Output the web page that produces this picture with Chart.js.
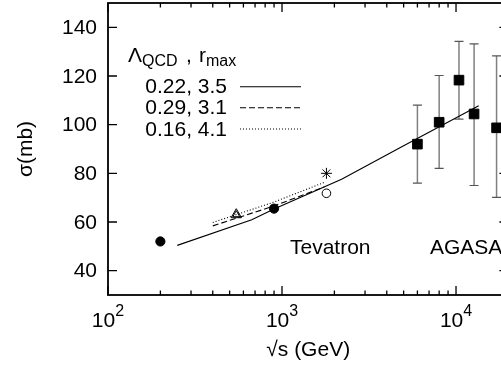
<!DOCTYPE html>
<html>
<head>
<meta charset="utf-8">
<script src="https://cdn.jsdelivr.net/npm/chart.js@4/dist/chart.umd.min.js"></script>
<style>
  html, body { margin: 0; padding: 0; background: #fff; overflow: hidden; }
  #wrap { width: 530px; height: 365px; }
</style>
</head>
<body>
<div id="wrap"><canvas id="c" width="530" height="365"></canvas></div>
<script>
// Model curves: sigma (mb) vs sqrt(s) (GeV) for three (Lambda_QCD, r_max) choices
const curveA_x = [250, 670, 900, 2200, 5000, 13500];
const curveA_y = [50.4, 60.9, 65.3, 77.6, 91.3, 107.8];
const curveB_x = [400, 900, 1750];
const curveB_y = [58.4, 66.6, 74.4];
const curveC_x = [400, 900, 1750];
const curveC_y = [59.8, 68.2, 76.3];
const curveLabels = ['0.22, 3.5', '0.29, 3.1', '0.16, 4.1'];

// Accelerator measurements
const filledCircleX = [200, 900];
const filledCircleY = [52, 65.5];
const triangleX = [546];
const triangleY = [63];
const starX = [1800];
const starY = [80];
const openCircleX = [1800];
const openCircleY = [71.8];

// AGASA cosmic-ray points with error ranges
const agasaX = [6000, 8000, 10400, 12700, 17100];
const agasaY = [92, 101, 118.3, 104.4, 98.7];
const agasaLow = [76, 82, 102.3, 75, 70.1];
const agasaHigh = [108, 120.2, 134.2, 133.2, 128.3];

// Axis ticks
const yTicks = [40, 60, 80, 100, 120, 140];
const xDecades = [100, 1000, 10000];
const xMin = 100, xMax = 20000, yMin = 30, yMax = 150;

// Plot rectangle inside the canvas
const AREA = { left: 108, top: 3, right: 508.4, bottom: 295 };

const FONT = '"Liberation Sans", Arial, Helvetica, sans-serif';
const pts = (xs, ys) => xs.map((x, i) => ({ x, y: ys[i] }));

const errorBars = {
  id: 'errorBars',
  beforeDatasetsDraw(chart) {
    const { ctx, scales: { x, y } } = chart;
    ctx.save();
    agasaX.forEach((v, i) => {
      const px = x.getPixelForValue(v);
      const lo = y.getPixelForValue(agasaLow[i]);
      const hi = y.getPixelForValue(agasaHigh[i]);
      ctx.strokeStyle = '#808080';
      ctx.lineWidth = 1.5;
      ctx.beginPath(); ctx.moveTo(px, lo); ctx.lineTo(px, hi); ctx.stroke();
      ctx.strokeStyle = '#555';
      ctx.lineWidth = 1.2;
      ctx.beginPath();
      ctx.moveTo(px - 4.5, lo); ctx.lineTo(px + 4.5, lo);
      ctx.moveTo(px - 4.5, hi); ctx.lineTo(px + 4.5, hi);
      ctx.stroke();
    });
    ctx.restore();
  }
};

const frame = {
  id: 'frame',
  afterDraw(chart) {
    const { ctx, chartArea: a, scales: { x, y } } = chart;
    ctx.save();
    ctx.strokeStyle = '#000';
    ctx.lineWidth = 1.8;
    ctx.strokeRect(a.left, a.top, a.right - a.left, a.bottom - a.top);

    // inward ticks on all four sides
    ctx.lineWidth = 1.3;
    ctx.beginPath();
    xDecades.forEach(d => {
      for (let m = 1; m <= 9; m++) {
        const v = d * m;
        if (v > xMax) break;
        const px = x.getPixelForValue(v);
        const len = m === 1 ? 9 : 4.5;
        ctx.moveTo(px, a.bottom); ctx.lineTo(px, a.bottom - len);
        ctx.moveTo(px, a.top); ctx.lineTo(px, a.top + len);
      }
    });
    yTicks.forEach(v => {
      const py = y.getPixelForValue(v);
      ctx.moveTo(a.left, py); ctx.lineTo(a.left + 9, py);
      ctx.moveTo(a.right, py); ctx.lineTo(a.right - 9, py);
    });
    ctx.stroke();

    ctx.fillStyle = '#000';

    // y tick labels
    ctx.font = '21px ' + FONT;
    ctx.textAlign = 'right';
    ctx.textBaseline = 'middle';
    yTicks.forEach(v => {
      ctx.fillText(String(v), a.left - 11, y.getPixelForValue(v) + 1);
    });

    ctx.textBaseline = 'alphabetic';
    ctx.textAlign = 'left';

    // x tick labels as powers of ten
    xDecades.forEach(d => {
      const px = x.getPixelForValue(d);
      const exp = String(Math.round(Math.log10(d)));
      ctx.font = '21px ' + FONT;
      const wb = ctx.measureText('10').width;
      ctx.font = '16px ' + FONT;
      const we = ctx.measureText(exp).width;
      const left = px - (wb + we) / 2;
      ctx.font = '21px ' + FONT;
      ctx.fillText('10', left, 327);
      ctx.font = '16px ' + FONT;
      ctx.fillText(exp, left + wb, 316);
    });

    // axis titles
    ctx.font = '21px ' + FONT;
    ctx.textAlign = 'center';
    ctx.fillText('\u221As (GeV)', (a.left + a.right) / 2, 356);
    ctx.save();
    ctx.translate(26, (a.top + a.bottom) / 2);
    ctx.rotate(-Math.PI / 2);
    ctx.textBaseline = 'middle';
    ctx.fillText('\u03C3(mb)', 0, 0);
    ctx.restore();

    // experiment labels
    ctx.textAlign = 'left';
    ctx.fillText('Tevatron', 290, 254);
    ctx.fillText('AGASA', 430, 254);

    // key title: Lambda_QCD , r_max
    ctx.font = '21px ' + FONT;
    ctx.fillText('\u039B', 128, 62);
    const wL = ctx.measureText('\u039B').width;
    ctx.font = '16px ' + FONT;
    ctx.fillText('QCD', 128 + wL, 66);
    ctx.font = '21px ' + FONT;
    ctx.fillText(',', 186, 62);
    ctx.fillText('r', 199, 62);
    const wr = ctx.measureText('r').width;
    ctx.font = '16px ' + FONT;
    ctx.fillText('max', 199 + wr, 66);

    // key entries
    const rows = [86.7, 107.7, 129];
    const dsIdx = [0, 1, 2];
    ctx.font = '21px ' + FONT;
    ctx.textAlign = 'right';
    ctx.textBaseline = 'middle';
    rows.forEach((ry, i) => {
      ctx.fillStyle = '#000';
      ctx.fillText(curveLabels[i], 227, ry + 1);
      const ds = chart.data.datasets[dsIdx[i]];
      ctx.strokeStyle = ds.borderColor;
      ctx.lineWidth = ds.borderWidth;
      ctx.setLineDash(ds.borderDash || []);
      ctx.beginPath(); ctx.moveTo(240, ry); ctx.lineTo(301, ry); ctx.stroke();
      ctx.setLineDash([]);
    });
    ctx.restore();
  }
};

const lineDs = (label, xs, ys, dash) => ({
  label, data: pts(xs, ys), showLine: true, pointRadius: 0,
  borderColor: '#000', borderWidth: 1.1, borderDash: dash, order: 2, tension: 0
});
const markDs = (label, xs, ys, style, r, fill, bw) => ({
  label, data: pts(xs, ys), showLine: false, pointStyle: style,
  pointRadius: r, pointHoverRadius: r, backgroundColor: fill,
  borderColor: '#000', borderWidth: bw, order: 1
});

new Chart(document.getElementById('c'), {
  type: 'scatter',
  data: {
    datasets: [
      lineDs(curveLabels[0], curveA_x, curveA_y, []),
      lineDs(curveLabels[1], curveB_x, curveB_y, [6, 3]),
      lineDs(curveLabels[2], curveC_x, curveC_y, [1, 2]),
      markDs('filled circles', filledCircleX, filledCircleY, 'circle', 4.6, '#000', 1),
      markDs('triangle', triangleX, triangleY, 'triangle', 6, 'rgba(255,255,255,0)', 1),
      markDs('triangle inner', triangleX, triangleY, 'triangle', 4, 'rgba(255,255,255,0)', 1),
      markDs('star', starX, starY, 'star', 5.5, '#000', 1),
      markDs('open circle', openCircleX, openCircleY, 'circle', 4.3, '#fff', 1),
      markDs('AGASA', agasaX, agasaY, 'rect', 6.8, '#000', 1)
    ]
  },
  options: {
    responsive: false,
    animation: false,
    events: [],
    layout: { autoPadding: false, padding: { left: 0, top: AREA.top, right: 530 - AREA.right, bottom: 0 } },
    plugins: { legend: { display: false }, tooltip: { enabled: false } },
    scales: {
      x: {
        type: 'logarithmic', min: xMin, max: xMax,
        grid: { display: false }, border: { display: false },
        ticks: { display: false },
        afterFit(s) { s.height = 365 - AREA.bottom; }
      },
      y: {
        type: 'linear', min: yMin, max: yMax,
        grid: { display: false }, border: { display: false },
        ticks: { display: false },
        afterFit(s) { s.width = AREA.left; }
      }
    }
  },
  plugins: [errorBars, frame]
});
</script>
</body>
</html>
